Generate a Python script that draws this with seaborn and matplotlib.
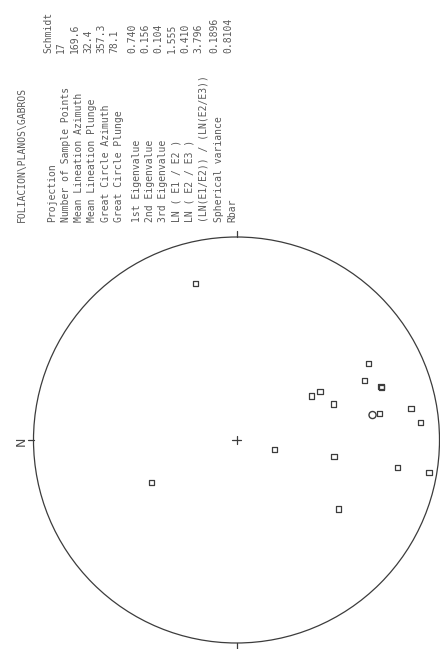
import numpy as np
import pandas as pd
import matplotlib
matplotlib.use("Agg")
import matplotlib.pyplot as plt
from matplotlib.patches import Circle
import seaborn as sns

# ---- data -------------------------------------------------------------
title = "FOLIACION\\PLANOS\\GABROS"

stat_labels = [
    "Projection",
    "Number of Sample Points",
    "Mean Lineation Azimuth",
    "Mean Lineation Plunge",
    "Great Circle Azimuth",
    "Great Circle Plunge",
    "1st Eigenvalue",
    "2nd Eigenvalue",
    "3rd Eigenvalue",
    "LN ( E1 / E2 )",
    "LN ( E2 / E3 )",
    "(LN(E1/E2)) / (LN(E2/E3))",
    "Spherical variance",
    "Rbar",
]
stat_values = [
    "Schmidt", "17", "169.6", "32.4", "357.3", "78.1",
    "0.740", "0.156", "0.104", "1.555", "0.410", "3.796",
    "0.1896", "0.8104",
]

# lineation poles: trend (azimuth, deg) and plunge (deg)
trend = [75.2, 149.9, 155.0, 159.8, 160.1, 149.7, 149.7, 159.6, 169.7,
         169.6, 174.6, 193.8, 189.5, 189.6, 189.5, 333.3, 214.1]
plunge = [21.3, 25.6, 31.1, 25.1, 25.2, 50.6, 54.7, 47.8, 13.7,
          29.2, 10.0, 74.4, 49.7, 20.6, 4.3, 51.4, 39.3]

mean_trend = 169.6
mean_plunge = 32.4


# ---- helpers ----------------------------------------------------------
def schmidt_xy(tr, pl):
    """Equal-area (Schmidt) lower-hemisphere projection.
    The sheet is turned a quarter turn: north points left, east up."""
    tr = np.radians(np.asarray(tr, float))
    pl = np.asarray(pl, float)
    r = np.sqrt(2.0) * np.sin(np.radians((90.0 - pl) / 2.0))
    north = r * np.cos(tr)
    east = r * np.sin(tr)
    return -north, east


W, H = 440, 649


def fig_xy(px, py):
    return px / W, 1.0 - py / H


# ---- figure -----------------------------------------------------------
sns.set_style("white")
plt.rcParams["font.family"] = ["DejaVu Sans Mono", "DejaVu Sans"]

fig = plt.figure(figsize=(W / 100, H / 100), dpi=100)
fig.patch.set_facecolor("white")

cx, cy, R = 236.5, 440.0, 203.0
ax = fig.add_axes([(cx - R) / W, 1 - (cy + R) / H, 2 * R / W, 2 * R / H])
ax.set_xlim(-1, 1)
ax.set_ylim(-1, 1)
ax.set_axis_off()

ink = "#3c3c3c"

# primitive circle
ax.add_patch(Circle((0, 0), 1.0, fill=False, lw=0.9, ec=ink, clip_on=False))

# cardinal ticks and centre cross
t = 0.028
for (x0, y0, x1, y1) in [(-1 - t, 0, -1, 0), (1, 0, 1 + t, 0),
                         (0, 1, 0, 1 + t), (0, -1 - t, 0, -1)]:
    ax.plot([x0, x1], [y0, y1], color=ink, lw=0.9, clip_on=False)
c = 0.02
ax.plot([-c, c], [0, 0], color=ink, lw=0.9)
ax.plot([0, 0], [-c, c], color=ink, lw=0.9)

# sample poles
px, py = schmidt_xy(trend, plunge)
df = pd.DataFrame({"x": px, "y": py})
sns.scatterplot(data=df, x="x", y="y", marker="s", s=14,
                color="none", edgecolor=ink, linewidth=0.9, ax=ax,
                legend=False)
for coll in ax.collections:
    coll.set_facecolor("none")
    coll.set_edgecolor(ink)
ax.set_xlim(-1, 1)
ax.set_ylim(-1, 1)
ax.set_xlabel("")
ax.set_ylabel("")

# mean lineation
mx, my = schmidt_xy([mean_trend], [mean_plunge])
ax.scatter(mx, my, marker="o", s=26, facecolors="none", edgecolors=ink,
           linewidths=1.0, zorder=3)

# north label
nx, ny = fig_xy(21, 441)
fig.text(nx, ny, "N", rotation=90, ha="center", va="center",
         fontsize=9, color="#4a4a4a", family="DejaVu Sans")

# ---- statistics block -------------------------------------------------
txt_color = "#5a5a5a"
fs = 7
row_x = []
x = 50.5
for i in range(len(stat_labels)):
    if i == 6:
        x += 4.2
    if i == 12:
        x += 3.0
    row_x.append(x)
    x += 13.3

tx, ty = fig_xy(22, 222)
fig.text(tx, ty, title, rotation=90, ha="center", va="bottom",
         fontsize=fs, color=txt_color)

for xr, lab, val in zip(row_x, stat_labels, stat_values):
    lx, ly = fig_xy(xr + 2.0, 222)
    fig.text(lx, ly, lab, rotation=90, ha="center", va="bottom",
             fontsize=fs, color=txt_color)
    vx, vy = fig_xy(xr - 2.5, 53)
    fig.text(vx, vy, val, rotation=90, ha="center", va="bottom",
             fontsize=fs, color=txt_color)

fig.savefig("out.png", dpi=100, facecolor="white")
